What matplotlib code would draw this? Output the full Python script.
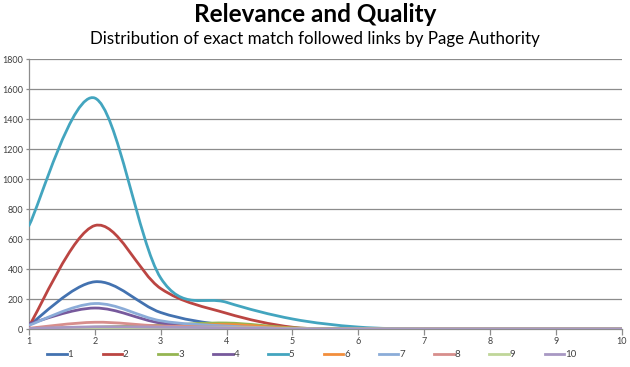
import numpy as np
import matplotlib
matplotlib.use("Agg")
import matplotlib.pyplot as plt
from matplotlib.path import Path
from matplotlib.patches import PathPatch
from matplotlib.lines import Line2D

plt.rcParams['font.family'] = ['Lato', 'DejaVu Sans']

# Page Authority buckets on the x axis
pa = [1, 2, 3, 4, 5, 6, 7, 8, 9, 10]

# link counts per series
s1 = [25, 315, 110, 25, 5, 0, 0, 0, 0, 0]
s2 = [20, 690, 270, 105, 12, 0, 0, 0, 0, 0]
s3 = [2, 12, 25, 40, 8, 0, 0, 0, 0, 0]
s4 = [35, 140, 40, 15, 3, 0, 0, 0, 0, 0]
s5 = [690, 1540, 340, 178, 67, 13, 0, 0, 0, 0]
s6 = [2, 8, 15, 30, 5, 0, 0, 0, 0, 0]
s7 = [25, 170, 55, 20, 3, 0, 0, 0, 0, 0]
s8 = [5, 45, 20, 12, 2, 0, 0, 0, 0, 0]
s9 = [1, 5, 8, 10, 2, 0, 0, 0, 0, 0]
s10 = [3, 15, 12, 8, 1, 0, 0, 0, 0, 0]

series = [s1, s2, s3, s4, s5, s6, s7, s8, s9, s10]
labels = [str(i) for i in range(1, 11)]
colors = ["#4372B0", "#BB4542", "#95B552", "#77599C", "#43A5BF",
          "#F28E3C", "#8BACD8", "#D78E8C", "#C0D699", "#A898C3"]


def smooth_path(x, y):
    # Excel-style smoothed line: cubic Bezier segments between the data points
    pts = np.column_stack([x, y]).astype(float)
    n = len(pts)
    verts = [pts[0]]
    codes = [Path.MOVETO]
    for i in range(n - 1):
        p0 = pts[max(i - 1, 0)]
        p1 = pts[i]
        p2 = pts[i + 1]
        p3 = pts[min(i + 2, n - 1)]
        c1 = p1 + (p2 - p0) / 6.0
        c2 = p2 - (p3 - p1) / 6.0
        verts += [c1, c2, p2]
        codes += [Path.CURVE4] * 3
    return Path(verts, codes)


fig = plt.figure(figsize=(6.3, 3.67), dpi=100)
ax = fig.add_axes([0.046, 0.1035, 0.941, 0.7355])

handles = []
for vals, lab, col in zip(series, labels, colors):
    ax.add_patch(PathPatch(smooth_path(pa, vals), facecolor="none",
                           edgecolor=col, lw=2.0, capstyle="round",
                           joinstyle="round", zorder=3))
    handles.append(Line2D([], [], color=col, lw=2.0, label=lab))

ax.set_xlim(1, 10)
ax.set_ylim(0, 1800)
ax.set_xticks(pa)
ax.set_yticks(np.arange(0, 1801, 200))
ax.yaxis.grid(True, color="#8C8C8C", lw=0.9)
ax.set_axisbelow(True)
for side in ["top", "right"]:
    ax.spines[side].set_visible(False)
for side in ["left", "bottom"]:
    ax.spines[side].set_color("#8C8C8C")
    ax.spines[side].set_linewidth(0.9)
ax.tick_params(axis="x", length=4, width=0.9, color="#8C8C8C",
               labelsize=6.5, labelcolor="#404040", pad=2)
ax.tick_params(axis="y", length=2, width=0.9, color="#8C8C8C",
               labelsize=6.5, labelcolor="#404040", pad=2)

fig.text(0.5, 0.96, "Relevance and Quality", ha="center", va="center",
         fontsize=17.5, fontweight="bold", color="black")
fig.text(0.5, 0.893, "Distribution of exact match followed links by Page Authority",
         ha="center", va="center", fontsize=12.2, color="black")

ax.legend(handles=handles, ncol=10, loc="upper center",
          bbox_to_anchor=(0.477, -0.045), frameon=False, fontsize=7,
          handlelength=2.0, handletextpad=0.1, columnspacing=3.0,
          labelcolor="#404040")

fig.savefig("out.png", dpi=100)
